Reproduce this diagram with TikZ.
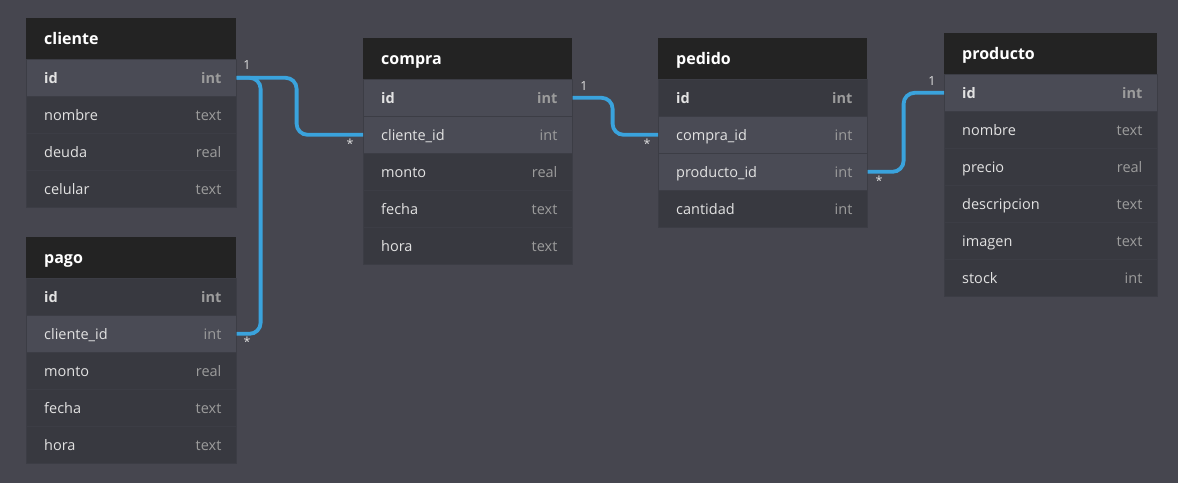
\documentclass[tikz,border=0pt]{standalone}
\usepackage{fontspec}
\setmainfont{Open Sans}
\definecolor{bgcol}{HTML}{46464F}
\definecolor{hdrcol}{HTML}{232323}
\definecolor{rowcol}{HTML}{383940}
\definecolor{hlcol}{HTML}{4A4B55}
\definecolor{sepcol}{HTML}{3C3D45}
\definecolor{fieldcol}{HTML}{E2E2E2}
\definecolor{typecol}{HTML}{9C9C9C}
\definecolor{conncol}{HTML}{3AA3DD}
\tikzset{
  hdr/.style={fill=hdrcol,draw=none,minimum height=41pt,inner sep=0pt,anchor=north west},
  hdrtxt/.style={text=white,font=\fontsize{16}{18}\selectfont\bfseries,anchor=base west,inner sep=0pt},
  rowbox/.style={fill=rowcol,draw=sepcol,line width=0.6pt,minimum height=37pt,inner sep=0pt,anchor=north west},
  hl/.style={fill=hlcol},
  nohl/.style={},
  fieldtxt/.style={text=fieldcol,font=\fontsize{14.5}{17}\selectfont,anchor=base west,inner sep=0pt},
  typetxt/.style={text=typecol,font=\fontsize{14.5}{17}\selectfont,anchor=base east,inner sep=0pt},
  conn/.style={draw=conncol,line width=3.8pt,rounded corners=11pt},
  card/.style={text=fieldcol,font=\fontsize{12.5}{14}\selectfont,inner sep=0pt},
}
% #1 name, #2 x, #3 y, #4 width, #5 title
\newcommand\ertitle[5]{%
  \node[hdr,minimum width=#4pt] (#1) at (#2,#3) {};
  \node[hdrtxt] (#1-title) at ([xshift=18pt,yshift=-5.8pt]#1.west) {#5};
}
% #1 name, #2 x, #3 y top, #4 width, #5 style, #6 field, #7 type
\newcommand\errow[7]{%
  \node[rowbox,#5,minimum width=#4pt] (#1) at (#2,#3) {};
  \node[fieldtxt] (#1-f) at ([xshift=18pt,yshift=-6pt]#1.west) {#6};
  \node[typetxt] (#1-t) at ([xshift=-15pt,yshift=-6pt]#1.east) {#7};
}
\begin{document}
\begin{tikzpicture}[x=1pt,y=-1pt]
\useasboundingbox[fill=bgcol] (0,0) rectangle (1178,483);

% cliente
\ertitle{cliente}{26}{18}{210}{cliente}
\errow{cliente-id}{26}{59}{210}{hl}{\bfseries id}{\bfseries int}
\errow{cliente-nombre}{26}{96}{210}{nohl}{nombre}{text}
\errow{cliente-deuda}{26}{133}{210}{nohl}{deuda}{real}
\errow{cliente-celular}{26}{170}{210}{nohl}{celular}{text}

% pago
\ertitle{pago}{26}{237}{210}{pago}
\errow{pago-id}{26}{278}{210}{nohl}{\bfseries id}{\bfseries int}
\errow{pago-cid}{26}{315}{210}{hl}{cliente\_id}{int}
\errow{pago-monto}{26}{352}{210}{nohl}{monto}{real}
\errow{pago-fecha}{26}{389}{210}{nohl}{fecha}{text}
\errow{pago-hora}{26}{426}{210}{nohl}{hora}{text}

% compra
\ertitle{compra}{363}{38}{209}{compra}
\errow{compra-id}{363}{79}{209}{hl}{\bfseries id}{\bfseries int}
\errow{compra-cid}{363}{116}{209}{hl}{cliente\_id}{int}
\errow{compra-monto}{363}{153}{209}{nohl}{monto}{real}
\errow{compra-fecha}{363}{190}{209}{nohl}{fecha}{text}
\errow{compra-hora}{363}{227}{209}{nohl}{hora}{text}

% pedido
\ertitle{pedido}{658}{38}{209}{pedido}
\errow{pedido-id}{658}{79}{209}{nohl}{\bfseries id}{\bfseries int}
\errow{pedido-cid}{658}{116}{209}{hl}{compra\_id}{int}
\errow{pedido-pid}{658}{153}{209}{hl}{producto\_id}{int}
\errow{pedido-cant}{658}{190}{209}{nohl}{cantidad}{int}

% producto
\ertitle{producto}{944}{33}{213}{producto}
\errow{producto-id}{944}{74}{213}{hl}{\bfseries id}{\bfseries int}
\errow{producto-nombre}{944}{111}{213}{nohl}{nombre}{text}
\errow{producto-precio}{944}{148}{213}{nohl}{precio}{real}
\errow{producto-desc}{944}{185}{213}{nohl}{descripcion}{text}
\errow{producto-imagen}{944}{222}{213}{nohl}{imagen}{text}
\errow{producto-stock}{944}{259}{213}{nohl}{stock}{int}

% connectors
\draw[conn] (cliente-id.east) -- ++(60,0) |- (compra-cid.west);
\draw[conn] (cliente-id.east) -- ++(24,0) |- (pago-cid.east);
\draw[conn] (compra-id.east) -- ++(40,0) |- (pedido-cid.west);
\draw[conn] (pedido-pid.east) -- ++(36,0) |- (producto-id.west);

% cardinalities
\node[card] (c1a) at (247,65) {1};
\node[card] (c1b) at (350,144) {*};
\node[card] (c1c) at (247,342) {*};
\node[card] (c2a) at (584,86) {1};
\node[card] (c2b) at (647,144) {*};
\node[card] (c3a) at (879,181) {*};
\node[card] (c3b) at (932,81) {1};
\end{tikzpicture}
\end{document}
